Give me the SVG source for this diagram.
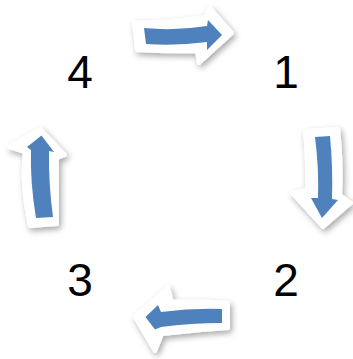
<svg xmlns="http://www.w3.org/2000/svg" width="353" height="359" viewBox="0 0 353 359">
  <defs>
    <filter id="sh" x="-30%" y="-30%" width="160%" height="160%">
      <feGaussianBlur in="SourceAlpha" stdDeviation="3"/>
      <feOffset dx="2" dy="3" result="b"/>
      <feComponentTransfer><feFuncA type="linear" slope="0.35"/></feComponentTransfer>
      <feMerge><feMergeNode/><feMergeNode in="SourceGraphic"/></feMerge>
    </filter>
  </defs>
  <style>
    .w { fill: #ffffff; stroke: #ffffff; stroke-width: 4; stroke-linejoin: round; filter: url(#sh); }
    .b { fill: #4F81BD; }
    .lbl { font-family: "Liberation Sans", Arial, sans-serif; font-size: 46px; fill: #000000; text-anchor: middle; }
  </style>
  <rect width="353" height="359" fill="#ffffff"/>
  <g id="connectors">
    <g id="arrow-4-1">
      <path class="w" d="M134,22 Q172,23 205,17 L210,8 L232,33 L199,63 L197,51 Q170,52 137,50 Z"/>
      <path class="b" d="M144,28 Q176,31 207,26 L208,20 L222,35 L207,50 L207,42 Q177,46 146,44 Z"/>
    </g>
    <g id="arrow-1-2">
      <path class="w" d="M305,131 L338,129 Q342,165 340,195 L351,203 L323,227 L292,193 L307,190 Q308,160 305,131 Z"/>
      <path class="b" d="M315,137 L330,136 Q333,168 332,199 L338,200 L322,218 L311,198 L318,198 Q319,168 315,137 Z"/>
    </g>
    <g id="arrow-2-3">
      <path class="w" d="M228,303 Q200,300 172,302 L168,287 L135,317 L155,351 L162,334 Q195,330 228,328 Z"/>
      <path class="b" d="M222,309 Q192,308 161,312 L158,305 L145.5,317 L155,329.5 L161,327 Q191,323 222,323 Z"/>
    </g>
    <g id="arrow-3-4">
      <path class="w" d="M30,226 Q21,185 25,152 L9,147 L40,129 L65,155 L57,158 Q57,190 57,224 Z"/>
      <path class="b" d="M36,218 Q30,182 31,150 L27,147 L41.5,135.5 L54,152 L49,151 Q48.5,184 53,217 Z"/>
    </g>
  </g>
  <g id="node-1"><text class="lbl" x="286" y="88">1</text></g>
  <g id="node-2"><text class="lbl" x="286" y="296">2</text></g>
  <g id="node-3"><text class="lbl" x="80" y="296">3</text></g>
  <g id="node-4"><text class="lbl" x="80" y="88">4</text></g>
</svg>
